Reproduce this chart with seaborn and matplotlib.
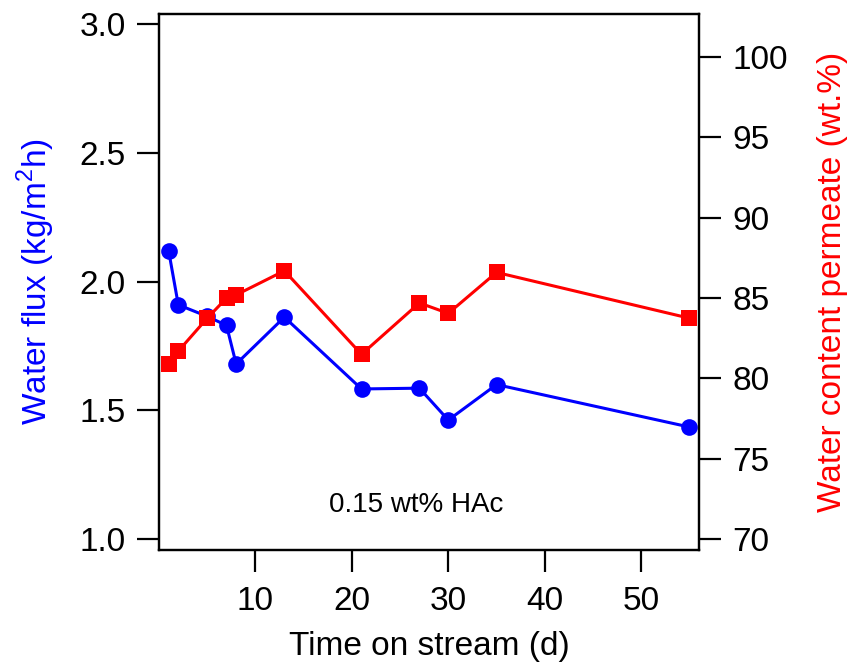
import numpy as np
import pandas as pd
import matplotlib
matplotlib.use("Agg")
import matplotlib.pyplot as plt
import seaborn as sns

# =============================
# DATA
# =============================
time_d = [1, 2, 5, 7, 8, 13, 21, 27, 30, 35, 55]
water_flux = [2.12, 1.91, 1.865, 1.83, 1.68, 1.862, 1.583, 1.586, 1.462, 1.60, 1.435]
water_content = [80.9, 81.7, 83.75, 85.0, 85.2, 86.7, 81.5, 84.7, 84.05, 86.6, 83.75]

x_ticks = [10, 20, 30, 40, 50]
flux_ticks = [1.0, 1.5, 2.0, 2.5, 3.0]
content_ticks = [70, 75, 80, 85, 90, 95, 100]

df = pd.DataFrame({"time": time_d, "flux": water_flux, "content": water_content})

# =============================
# STYLE
# =============================
sns.set_style("ticks", {"axes.edgecolor": "black", "text.color": "black",
                        "xtick.color": "black", "ytick.color": "black"})
plt.rcParams["font.family"] = ["Liberation Sans", "DejaVu Sans"]
plt.rcParams["mathtext.fontset"] = "custom"
plt.rcParams["mathtext.rm"] = "Liberation Sans"
plt.rcParams["axes.linewidth"] = 1.6

FS = 24

fig = plt.figure(figsize=(8.53, 6.63), dpi=100)
ax = fig.add_axes([0.1864, 0.1704, 0.6331, 0.8084])
ax2 = ax.twinx()

sns.lineplot(data=df, x="time", y="flux", ax=ax, color="blue", marker="o",
             markersize=12, markeredgewidth=0, linewidth=2.2)
sns.lineplot(data=df, x="time", y="content", ax=ax2, color="red", marker="s",
             markersize=11, markeredgewidth=0, linewidth=2.2)

ax.set_xlim(0, 56)
ax.set_ylim(0.957, 3.04)
ax2.set_ylim(69.32, 102.68)

ax.set_xticks(x_ticks)
ax.set_yticks(flux_ticks)
ax.set_yticklabels([f"{v:.1f}" for v in flux_ticks])
ax2.set_yticks(content_ticks)

for a in (ax, ax2):
    a.tick_params(direction="out", length=16, width=1.6, labelsize=FS, pad=8,
                  colors="black")
    for s in a.spines.values():
        s.set_visible(True)
        s.set_linewidth(1.6)
        s.set_color("black")
ax.tick_params(axis="x", pad=10)

ax.set_xlabel("Time on stream (d)", fontsize=FS, labelpad=10, color="black")
ax.set_ylabel("Water flux (kg/m$^2$h)", fontsize=FS, color="blue", labelpad=16)
ax2.set_ylabel("Water content permeate (wt.%)", fontsize=FS, color="red", labelpad=21)

ax.text(0.476, 0.084, "0.15 wt% HAc", transform=ax.transAxes, fontsize=20,
        ha="center", va="center", color="black")

fig.savefig("out.png", dpi=100)
